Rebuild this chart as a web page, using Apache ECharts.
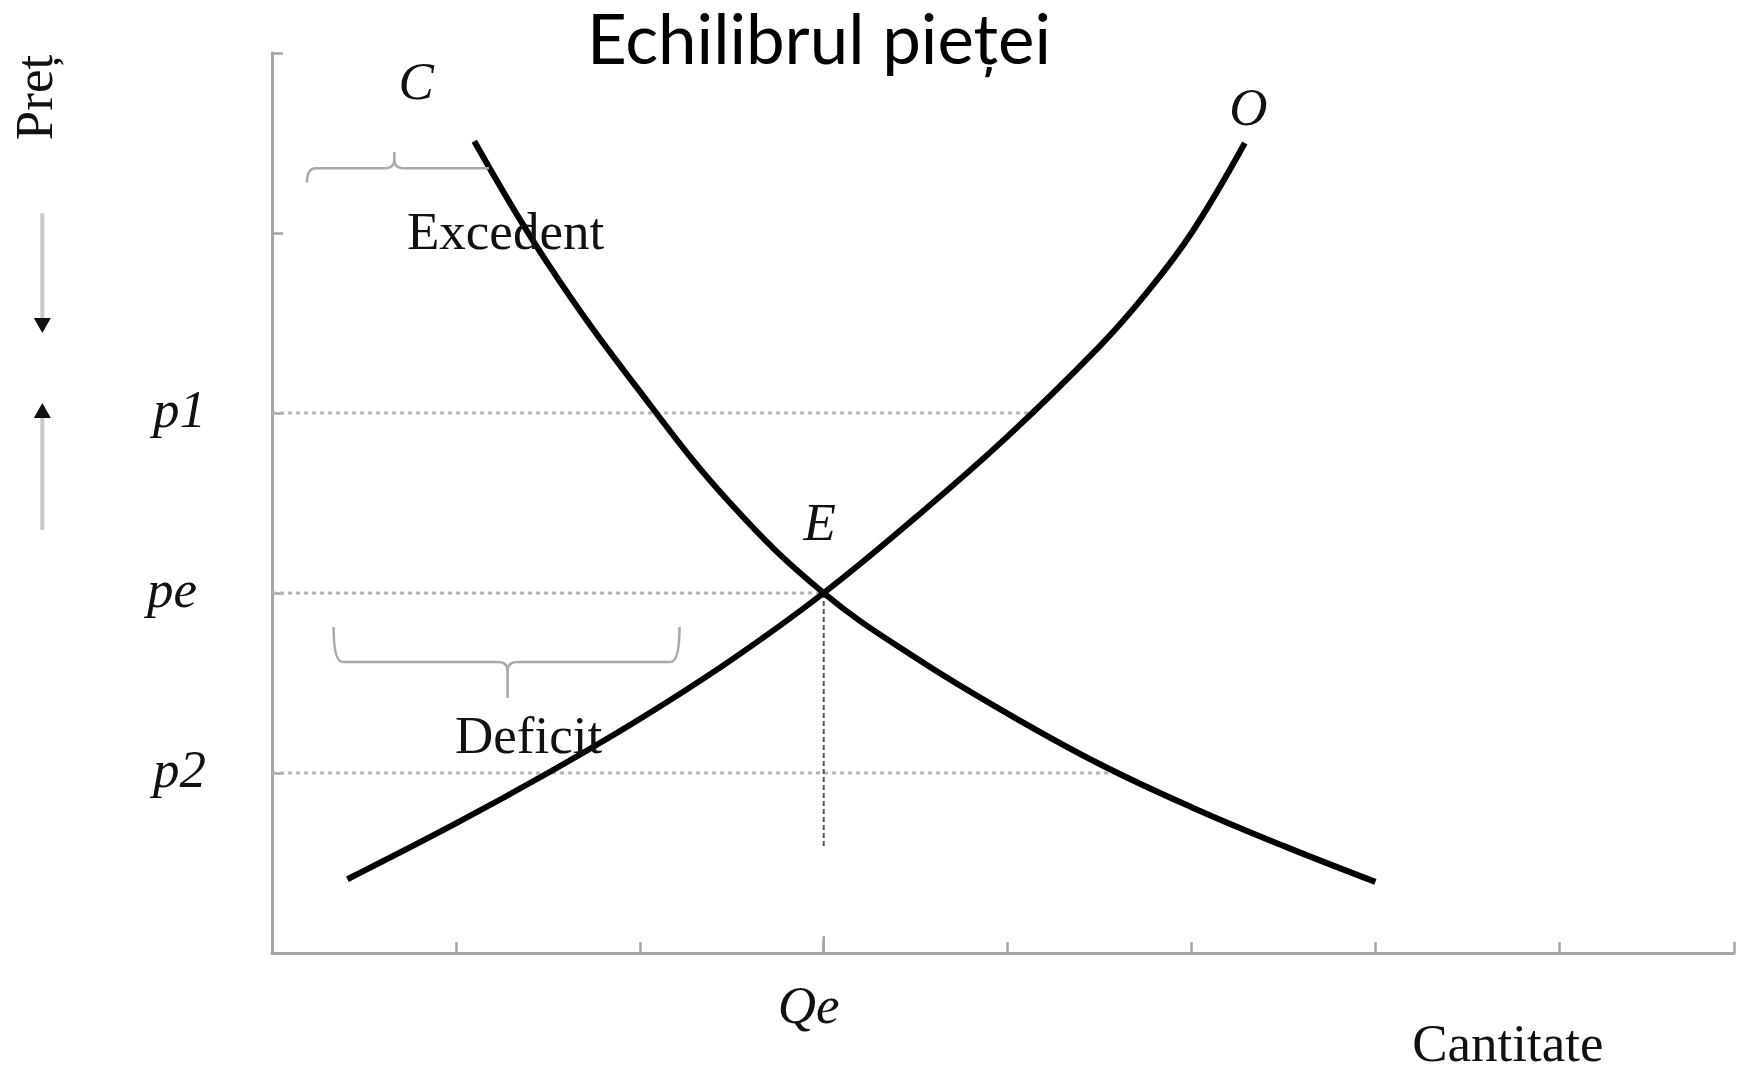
<!DOCTYPE html>
<html><head><meta charset="utf-8">
<script src="https://cdn.jsdelivr.net/npm/echarts@6/dist/echarts.min.js"></script>
<style>html,body{margin:0;padding:0;background:#fff}#c{width:1737px;height:1065px}</style>
</head><body><div id="c"></div>
<script>
// ---- data ----
const titleText = 'Echilibrul pieței';
const xTickLabels = ['', '', '', 'Qe', '', '', '', ''];
const yTickLabels = ['', 'p2', 'pe', 'p1', '', ''];
const xAxisName = 'Cantitate';
const yAxisName = 'Preț';

// demand curve C
const demandX = [1.10, 1.50, 2.00, 2.50, 3.00, 3.50, 4.00, 4.50, 5.00, 5.50, 6.00];
const demandY = [4.51, 3.83, 3.12, 2.49, 2.00, 1.64, 1.33, 1.05, 0.81, 0.595, 0.395];
// supply curve O
const supplyX = [0.41, 1.00, 1.50, 2.00, 2.50, 3.00, 3.50, 4.00, 4.50, 4.75, 5.00, 5.29];
const supplyY = [0.41, 0.72, 1.00, 1.30, 1.63, 2.00, 2.42, 2.87, 3.37, 3.66, 4.00, 4.50];

// price levels p2, pe, p1 and where their guide lines meet the curves
const priceLevels = [1, 2, 3];
const guideEndX = [4.58, 3.00, 4.17];
const equilibrium = [3.00, 2.00];
const qeDropEnd = 0.59;

// ---- styling ----
const SERIF = '"Liberation Serif", "Times New Roman", serif';
const axisGrey = '#a4a4a4';

const chart = echarts.init(document.getElementById('c'), null, {renderer: 'canvas'});

function renderAnnotations(params, api) {
  const c = (x, y) => api.coord([x, y]);
  const children = [];
  const braceStyle = {stroke: '#a8a8a8', lineWidth: 2.5, fill: null};

  function brace(xl, xr, xt, yLine, yEnd, yTip, rightHook) {
    const L = c(xl, yLine), R = c(xr, yLine), T = c(xt, yLine);
    const y0 = L[1];
    const yE = c(xl, yEnd)[1];
    const yT = c(xt, yTip)[1];
    const sT = Math.sign(yT - y0);
    const r = 9;
    const push = (type, shape) => children.push({type, shape, style: braceStyle});
    push('bezierCurve', {x1: L[0], y1: yE, x2: L[0] + r, y2: y0, cpx1: L[0], cpy1: y0});
    push('line', {x1: L[0] + r, y1: y0, x2: T[0] - r, y2: y0});
    push('bezierCurve', {x1: T[0] - r, y1: y0, x2: T[0], y2: y0 + sT * r, cpx1: T[0], cpy1: y0});
    push('line', {x1: T[0], y1: y0 + sT * r, x2: T[0], y2: yT});
    push('bezierCurve', {x1: T[0] + r, y1: y0, x2: T[0], y2: y0 + sT * r, cpx1: T[0], cpy1: y0});
    if (rightHook) {
      push('line', {x1: T[0] + r, y1: y0, x2: R[0] - r, y2: y0});
      push('bezierCurve', {x1: R[0] - r, y1: y0, x2: R[0], y2: yE, cpx1: R[0], cpy1: y0});
    } else {
      push('line', {x1: T[0] + r, y1: y0, x2: R[0], y2: y0});
    }
  }
  function arrow(x, yFrom, yTip) {
    const A = c(x, yFrom), B = c(x, yTip);
    const dir = Math.sign(B[1] - A[1]);
    const head = 15, hw = 8.5;
    children.push({type: 'line', shape: {x1: A[0], y1: A[1], x2: B[0], y2: B[1] - dir * head},
      style: {stroke: '#c9c9c9', lineWidth: 4}});
    children.push({type: 'polygon', shape: {points: [[B[0], B[1]], [B[0] - hw, B[1] - dir * head], [B[0] + hw, B[1] - dir * head]]},
      style: {fill: '#111'}});
  }
  function text(x, y, str, italic, rotation) {
    const p = c(x, y);
    children.push({type: 'text', x: p[0], y: p[1], rotation: rotation || 0,
      style: {text: str, fill: '#111', font: (italic ? 'italic ' : '') + '53px ' + SERIF,
        align: 'center', verticalAlign: 'middle'}});
  }

  // braces
  brace(0.19, 1.18, 0.665, 4.36, 4.28, 4.45, false);
  brace(0.335, 2.216, 1.281, 1.617, 1.811, 1.417, true);
  // arrows in the price-axis area
  arrow(-1.249, 4.11, 3.444);
  arrow(-1.249, 2.35, 3.056);
  // longer tick at Qe
  const q0 = c(equilibrium[0], 0);
  children.push({type: 'line', shape: {x1: q0[0], y1: q0[1], x2: q0[0], y2: q0[1] - 17},
    style: {stroke: axisGrey, lineWidth: 2.5}});
  // labels
  text(0.784, 4.82, 'C', true);
  text(5.31, 4.68, 'O', true);
  text(2.978, 2.37, 'E', true);
  text(1.270, 3.99, 'Excedent', false);
  text(1.395, 1.19, 'Deficit', false);
  text(6.72, -0.52, xAxisName, false);
  text(-1.270, 4.753, yAxisName, false, Math.PI / 2);
  return {type: 'group', children};
}

const zip = (xs, ys) => xs.map((x, i) => [x, ys[i]]);

const guideSeries = priceLevels.map((lvl, i) => ({
  type: 'line', silent: true, symbol: 'none', z: 1,
  data: [[0, lvl], [guideEndX[i], lvl]],
  lineStyle: {color: '#b4b4b4', width: 3, type: [4, 4]}
}));

chart.setOption({
  animation: false,
  backgroundColor: '#fff',
  title: {
    text: titleText, left: 814, top: 2, textAlign: 'center',
    textStyle: {fontFamily: 'Lato', fontSize: 69, fontWeight: 'normal', color: '#000'}
  },
  grid: {left: 272, right: -5, top: 53, bottom: 112, containLabel: false},
  xAxis: {
    type: 'value', min: 0, max: 7.95, interval: 1,
    axisLine: {show: true, lineStyle: {color: axisGrey, width: 3}},
    axisTick: {show: true, inside: true, length: 11, lineStyle: {color: axisGrey, width: 2.5}},
    axisLabel: {
      margin: 30, color: '#111', fontFamily: SERIF, fontStyle: 'italic', fontSize: 53,
      padding: [0, 30, 0, 0],
      formatter: v => (Number.isInteger(v) && xTickLabels[v]) || ''
    },
    splitLine: {show: false}
  },
  yAxis: {
    type: 'value', min: 0, max: 5, interval: 1,
    axisLine: {show: true, lineStyle: {color: axisGrey, width: 3}},
    axisTick: {show: true, inside: true, length: 11, lineStyle: {color: axisGrey, width: 2.5}},
    axisLabel: {
      margin: 66, color: '#111', fontFamily: SERIF, fontStyle: 'italic', fontSize: 53,
      formatter: v => {
        const s = (Number.isInteger(v) && yTickLabels[v]) || '';
        return s === 'pe' ? '{w|' + s + '}' : s;
      },
      rich: {w: {fontFamily: SERIF, fontStyle: 'italic', fontSize: 53, color: '#111', padding: [0, 9, 0, 0]}}
    },
    splitLine: {show: false}
  },
  series: [
    ...guideSeries,
    {
      type: 'line', silent: true, symbol: 'none', z: 1,
      data: [equilibrium, [equilibrium[0], qeDropEnd]],
      lineStyle: {color: '#555', width: 2, type: [5, 3]}
    },
    {
      name: 'C', type: 'line', silent: true, symbol: 'none', smooth: 0.4, z: 3,
      data: zip(demandX, demandY),
      lineStyle: {color: '#000', width: 6}
    },
    {
      name: 'O', type: 'line', silent: true, symbol: 'none', smooth: 0.4, z: 3,
      data: zip(supplyX, supplyY),
      lineStyle: {color: '#000', width: 6}
    },
    {
      type: 'custom', silent: true, clip: false, z: 4,
      coordinateSystem: 'cartesian2d',
      data: [[0, 0]],
      renderItem: renderAnnotations
    }
  ]
});
</script>
</body></html>
